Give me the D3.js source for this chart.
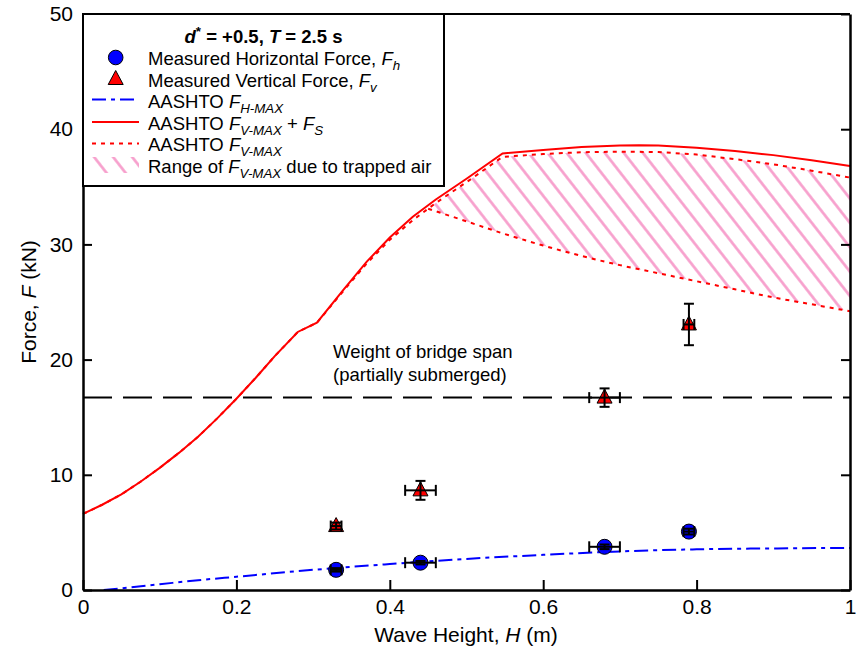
<!DOCTYPE html>
<html><head><meta charset="utf-8">
<script src="https://cdn.jsdelivr.net/npm/d3@7"></script>
<style>body{margin:0;background:#fff;} svg{display:block;font-family:"Liberation Sans",Arial,sans-serif;}</style>
</head><body><svg id="c" width="856" height="657"></svg>
<script>
// ---- data ----
const xTicks = [0, 0.2, 0.4, 0.6, 0.8, 1];
const yTicks = [0, 10, 20, 30, 40, 50];
const xTickLabels = ["0", "0.2", "0.4", "0.6", "0.8", "1"];
const yTickLabels = ["0", "10", "20", "30", "40", "50"];

// Measured horizontal force Fh
const fhH = [0.33, 0.44, 0.68, 0.79];
const fhF = [1.75, 2.37, 3.75, 5.07];
const fhHerr = [0.007, 0.02, 0.02, 0.007];
const fhFerr = [0.15, 0.15, 0.2, 0.25];
// Measured vertical force Fv
const fvH = [0.33, 0.44, 0.68, 0.79];
const fvF = [5.55, 8.65, 16.7, 23.05];
const fvHerr = [0.007, 0.02, 0.02, 0.007];
const fvFerr = [0.3, 0.82, 0.8, 1.8];

// AASHTO F_V-MAX + F_S (solid red)
const vmsH = [0, 0.025, 0.05, 0.075, 0.1, 0.125, 0.15, 0.175, 0.2, 0.225, 0.25, 0.28, 0.305, 0.34, 0.37, 0.40, 0.43, 0.46, 0.50, 0.547, 0.60, 0.65, 0.70, 0.725, 0.75, 0.80, 0.85, 0.90, 0.95, 1.00];
const vmsF = [6.6, 7.4, 8.3, 9.4, 10.6, 11.9, 13.3, 14.9, 16.6, 18.4, 20.3, 22.4, 23.2, 26.1, 28.5, 30.6, 32.4, 33.9, 35.7, 37.9, 38.2, 38.45, 38.58, 38.6, 38.58, 38.4, 38.1, 37.75, 37.3, 36.8];
// AASHTO F_V-MAX (dotted red, upper)
const vmH = [0, 0.025, 0.05, 0.075, 0.1, 0.125, 0.15, 0.175, 0.2, 0.225, 0.25, 0.28, 0.305, 0.34, 0.37, 0.40, 0.43, 0.46, 0.50, 0.547, 0.60, 0.65, 0.70, 0.75, 0.80, 0.85, 0.90, 0.95, 1.00];
const vmF = [6.6, 7.4, 8.3, 9.4, 10.6, 11.9, 13.3, 14.9, 16.6, 18.4, 20.3, 22.4, 23.2, 26.0, 28.35, 30.4, 32.1, 33.6, 35.4, 37.6, 37.85, 38.0, 38.05, 38.02, 37.8, 37.4, 36.95, 36.4, 35.8];
// lower bound of F_V-MAX range due to trapped air (dotted red, lower)
const lowH = [0.45, 0.50, 0.55, 0.60, 0.65, 0.70, 0.75, 0.80, 0.85, 0.90, 0.95, 1.00];
const lowF = [33.1, 32.0, 30.9, 29.9, 29.0, 28.2, 27.5, 26.8, 26.1, 25.4, 24.8, 24.2];
// AASHTO F_H-MAX (blue dash-dot)
const hmH = [0.027, 0.05, 0.1, 0.15, 0.2, 0.3, 0.4, 0.5, 0.6, 0.7, 0.8, 0.9, 1.0];
const hmF = [0, 0.15, 0.5, 0.85, 1.15, 1.75, 2.25, 2.7, 3.05, 3.35, 3.53, 3.61, 3.65];
// weight of bridge span
const bridgeWeight = 16.7;

// ---- drawing ----
const svg = d3.select("#c");
const x = d3.scaleLinear().domain([0, 1]).range([83, 850]);
const y = d3.scaleLinear().domain([0, 50]).range([590, 14]);
const RED = "#ff0000", BLUE = "#0000ff", PINK = "#f79ccb";

const defs = svg.append("defs");
const pat = defs.append("pattern").attr("id", "hatch").attr("patternUnits", "userSpaceOnUse")
  .attr("width", 15).attr("height", 15).attr("patternTransform", "rotate(-38)");
pat.append("line").attr("x1", 7.5).attr("y1", -1).attr("x2", 7.5).attr("y2", 16)
  .attr("stroke", PINK).attr("stroke-width", 2.6);

const line = d3.line().x(d => x(d[0])).y(d => y(d[1]));
const smooth = d3.line().x(d => x(d[0])).y(d => y(d[1])).curve(d3.curveMonotoneX);
const zip = (a, b) => a.map((v, i) => [v, b[i]]);

// hatch region
const upperPts = zip(vmH, vmF).filter(d => d[0] > lowH[0]);
const poly = [[lowH[0], lowF[0]]].concat(upperPts).concat(zip(lowH, lowF).reverse());
svg.append("path").attr("d", line(poly) + "Z").attr("fill", "url(#hatch)").attr("stroke", "none");

// dotted lines
svg.append("path").attr("d", line(zip(vmH, vmF))).attr("fill", "none").attr("stroke", RED)
  .attr("stroke-width", 2).attr("stroke-dasharray", "4,5");
svg.append("path").attr("d", smooth(zip(lowH, lowF))).attr("fill", "none").attr("stroke", RED)
  .attr("stroke-width", 2).attr("stroke-dasharray", "4,5");
// solid red
svg.append("path").attr("d", line(zip(vmsH, vmsF))).attr("fill", "none").attr("stroke", RED)
  .attr("stroke-width", 2);
// blue dash-dot
svg.append("path").attr("d", smooth(zip(hmH, hmF))).attr("fill", "none").attr("stroke", BLUE)
  .attr("stroke-width", 2).attr("stroke-dasharray", "14,5,4,5");
// bridge weight line
svg.append("line").attr("x1", x(0)).attr("x2", x(1)).attr("y1", y(bridgeWeight)).attr("y2", y(bridgeWeight))
  .attr("stroke", "#000").attr("stroke-width", 2).attr("stroke-dasharray", "29,11");

// rich text helper
function rich(g, px, py, parts, size, anchor, extra) {
  const t = g.append("text").attr("x", px).attr("y", py).attr("font-size", size)
    .attr("text-anchor", anchor || "start").attr("fill", "#000");
  if (extra) extra(t);
  let shift = 0;
  parts.forEach(p => {
    const ts = t.append("tspan").text(p.t);
    const target = p.sub ? size * 0.28 : p.sup ? -size * 0.4 : 0;
    if (target - shift !== 0) ts.attr("dy", target - shift);
    shift = target;
    if (p.sub || p.sup) ts.attr("font-size", size * 0.72);
    if (p.i) ts.attr("font-style", "italic");
    if (p.b) ts.attr("font-weight", "bold");
  });
  return t;
}

// text for weight
svg.append("text").attr("x", 333).attr("y", 358).attr("font-size", 18.5).text("Weight of bridge span");
svg.append("text").attr("x", 333).attr("y", 381).attr("font-size", 18.5).text("(partially submerged)");

// markers
const tri = "M0,-8.5L7.5,5.5L-7.5,5.5Z";
function errBars(H, F, He, Fe) {
  const g = svg.append("g").attr("stroke", "#000").attr("stroke-width", 2).attr("fill", "none");
  H.forEach((h, i) => {
    const cx = x(h), cy = y(F[i]);
    const x0 = x(h - He[i]), x1 = x(h + He[i]), y0 = y(F[i] - Fe[i]), y1 = y(F[i] + Fe[i]);
    g.append("line").attr("x1", x0).attr("x2", x1).attr("y1", cy).attr("y2", cy);
    g.append("line").attr("x1", x0).attr("x2", x0).attr("y1", cy - 5.5).attr("y2", cy + 5.5);
    g.append("line").attr("x1", x1).attr("x2", x1).attr("y1", cy - 5.5).attr("y2", cy + 5.5);
    g.append("line").attr("x1", cx).attr("x2", cx).attr("y1", y0).attr("y2", y1);
    g.append("line").attr("x1", cx - 5).attr("x2", cx + 5).attr("y1", y0).attr("y2", y0);
    g.append("line").attr("x1", cx - 5).attr("x2", cx + 5).attr("y1", y1).attr("y2", y1);
  });
}
svg.append("g").selectAll("circle").data(fhH).join("circle")
  .attr("cx", d => x(d)).attr("cy", (d, i) => y(fhF[i])).attr("r", 7.5)
  .attr("fill", BLUE).attr("stroke", "#000").attr("stroke-width", 1);
errBars(fhH, fhF, fhHerr, fhFerr);
svg.append("g").selectAll("path").data(fvH).join("path")
  .attr("d", tri).attr("transform", (d, i) => `translate(${x(d)},${y(fvF[i])})`)
  .attr("fill", RED).attr("stroke", "#000").attr("stroke-width", 1);
errBars(fvH, fvF, fvHerr, fvFerr);

// axes
const fontAx = 21;
const gx = svg.append("g").attr("transform", "translate(0,590)")
  .call(d3.axisBottom(x).tickValues(xTicks).tickFormat((d, i) => xTickLabels[i]).tickSize(-10).tickSizeOuter(0).tickPadding(9));
const gy = svg.append("g").attr("transform", "translate(83,0)")
  .call(d3.axisLeft(y).tickValues(yTicks).tickFormat((d, i) => yTickLabels[i]).tickSize(-9).tickSizeOuter(0).tickPadding(10));
const gr = svg.append("g").attr("transform", "translate(850,0)")
  .call(d3.axisRight(y).tickValues(yTicks).tickFormat("").tickSize(-9).tickSizeOuter(0));
[gx, gy, gr].forEach(g => {
  g.selectAll(".domain").attr("stroke", "#000").attr("stroke-width", 2.5);
  g.selectAll(".tick line").attr("stroke", "#000").attr("stroke-width", 2);
  g.selectAll("text").attr("font-size", fontAx).attr("font-family", '"Liberation Sans",Arial,sans-serif').attr("fill", "#000");
});
svg.append("line").attr("x1", 83).attr("x2", 850).attr("y1", 14).attr("y2", 14)
  .attr("stroke", "#000").attr("stroke-width", 2);

// axis titles
rich(svg, 466, 642, [{t: "Wave Height, "}, {t: "H", i: 1}, {t: " (m)"}], fontAx, "middle");
rich(svg, 0, 0, [{t: "Force, "}, {t: "F", i: 1}, {t: " (kN)"}], fontAx, "middle",
  t => t.attr("transform", "translate(36,302) rotate(-90)"));

// legend
const lg = svg.append("g");
lg.append("rect").attr("x", 83).attr("y", 14).attr("width", 361).attr("height", 172)
  .attr("fill", "#fff").attr("stroke", "#000").attr("stroke-width", 2);
const LS = 18.5, tx = 148, sx0 = 92, sx1 = 139, sc = 115.7;
rich(lg, 263.5, 43, [{t: "d", i: 1, b: 1}, {t: "*", sup: 1, b: 1}, {t: " = +0.5, ", b: 1}, {t: "T", i: 1, b: 1}, {t: " = 2.5 s", b: 1}], LS, "middle");
lg.append("circle").attr("cx", sc).attr("cy", 57.5).attr("r", 7.3).attr("fill", BLUE).attr("stroke", "#000");
rich(lg, tx, 65, [{t: "Measured Horizontal Force, "}, {t: "F", i: 1}, {t: "h", i: 1, sub: 1}], LS);
lg.append("path").attr("d", tri).attr("transform", `translate(${sc},79)`).attr("fill", RED).attr("stroke", "#000");
rich(lg, tx, 86.5, [{t: "Measured Vertical Force, "}, {t: "F", i: 1}, {t: "v", i: 1, sub: 1}], LS);
lg.append("line").attr("x1", sx0).attr("x2", sx1).attr("y1", 99.5).attr("y2", 99.5)
  .attr("stroke", BLUE).attr("stroke-width", 2).attr("stroke-dasharray", "14,5,4,5");
rich(lg, tx, 108, [{t: "AASHTO "}, {t: "F", i: 1}, {t: "H-MAX", i: 1, sub: 1}], LS);
lg.append("line").attr("x1", sx0).attr("x2", sx1).attr("y1", 122).attr("y2", 122)
  .attr("stroke", RED).attr("stroke-width", 2);
rich(lg, tx, 129.5, [{t: "AASHTO "}, {t: "F", i: 1}, {t: "V-MAX", i: 1, sub: 1}, {t: " + "}, {t: "F", i: 1}, {t: "S", i: 1, sub: 1}], LS);
lg.append("line").attr("x1", sx0).attr("x2", sx1).attr("y1", 143.5).attr("y2", 143.5)
  .attr("stroke", RED).attr("stroke-width", 2).attr("stroke-dasharray", "4,5");
rich(lg, tx, 151, [{t: "AASHTO "}, {t: "F", i: 1}, {t: "V-MAX", i: 1, sub: 1}], LS);
lg.append("rect").attr("x", sx0).attr("y", 157).attr("width", sx1 - sx0).attr("height", 16).attr("fill", "url(#hatch)");
rich(lg, tx, 172.5, [{t: "Range of "}, {t: "F", i: 1}, {t: "V-MAX", i: 1, sub: 1}, {t: " due to trapped air"}], LS);
</script></body></html>
